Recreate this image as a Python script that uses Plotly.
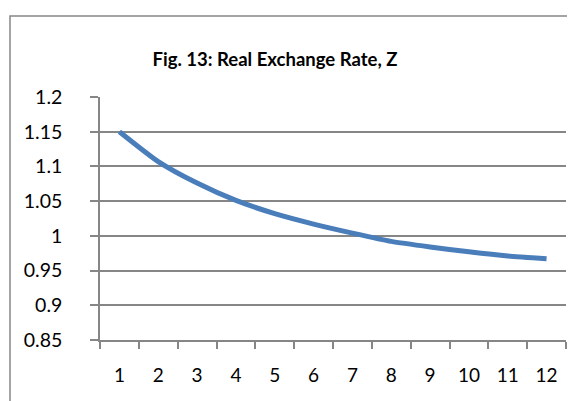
import plotly.graph_objects as go

categories = [str(i) for i in range(1, 13)]
real_exchange_rate = [1.15, 1.107, 1.076, 1.051, 1.032, 1.017, 1.004, 0.992, 0.984, 0.977, 0.971, 0.967]
y_ticks = [0.85, 0.9, 0.95, 1.0, 1.05, 1.1, 1.15, 1.2]
y_tick_labels = ["0.85", "0.9", "0.95", "1", "1.05", "1.1", "1.15", "1.2"]
title_text = "Fig. 13: Real Exchange Rate, Z"

grey = "#868686"
fig = go.Figure()
fig.add_trace(go.Scatter(
    x=categories, y=real_exchange_rate, mode="lines",
    line=dict(color="#4A7EBB", width=5, shape="spline", smoothing=0.6),
    showlegend=False, hoverinfo="skip"))

fig.update_layout(
    width=567, height=393,
    margin=dict(l=92, r=9, t=89, b=61),
    paper_bgcolor="white", plot_bgcolor="white",
    font=dict(family="Lato, Calibri, sans-serif", color="#000000"),
    title=dict(text="<b>" + title_text + "</b>", x=267 / 567, xanchor="center",
               y=1 - 52 / 393, yanchor="middle", font=dict(size=18.5)),
    xaxis=dict(type="category", tickson="boundaries", ticks="outside", ticklen=7,
               tickcolor=grey, tickwidth=1.5, showline=True, linecolor=grey, linewidth=1.5,
               showgrid=False, tickfont=dict(size=19), ticklabelstandoff=17,
               range=[-0.5, 11.5], fixedrange=True),
    yaxis=dict(range=[0.85, 1.2], tickvals=y_ticks, ticktext=y_tick_labels,
               ticks="outside", ticklen=8, tickcolor=grey, tickwidth=1.5,
               showline=True, linecolor=grey, linewidth=1.5,
               showgrid=True, gridcolor=grey, gridwidth=1.5, zeroline=False,
               tickfont=dict(size=19.5), ticklabelstandoff=24, fixedrange=True),
)

# outer chart-area border (extends beyond the visible crop on right/bottom)
fig.add_shape(type="rect", xref="paper", yref="paper",
              x0=(2 - 92) / 466, x1=1.2, y0=-0.5, y1=(332 - 8) / 243,
              line=dict(color=grey, width=1.5), fillcolor="rgba(0,0,0,0)", layer="below")

fig.write_html("out.html")
